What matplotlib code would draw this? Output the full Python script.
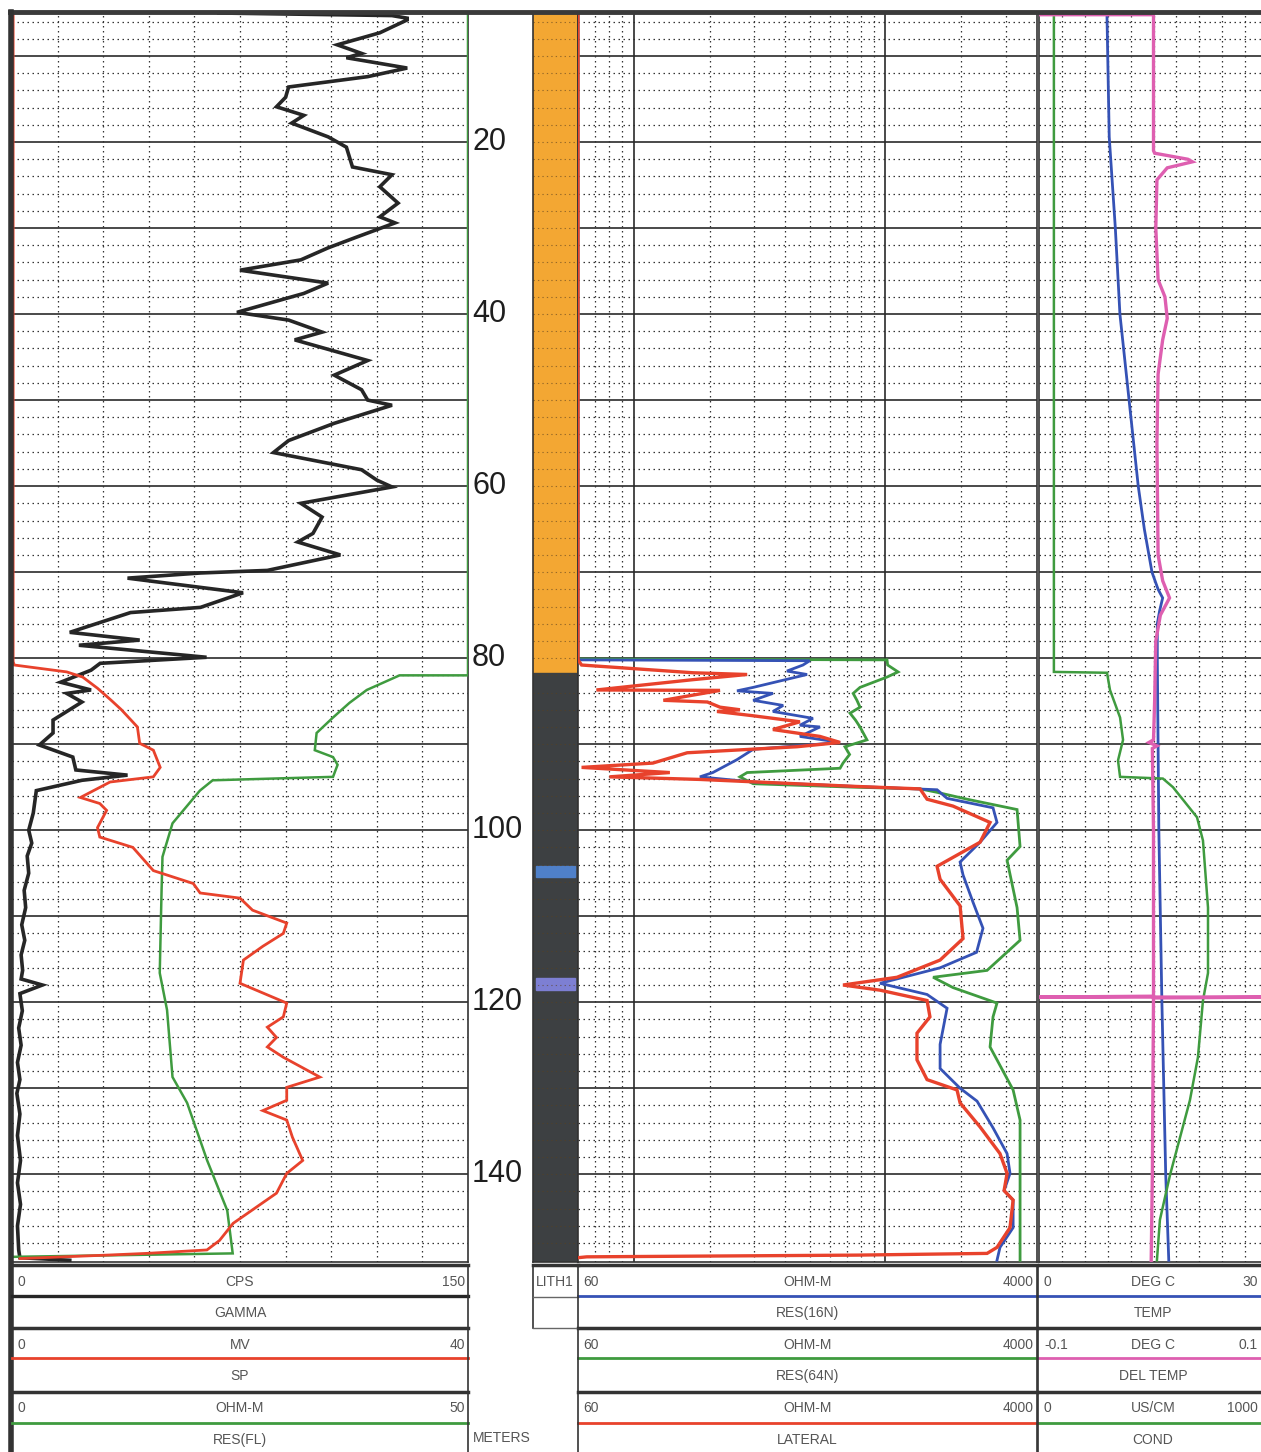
import matplotlib.pyplot as plt
import matplotlib.transforms as mtrans

depth_labels = [20, 40, 60, 80, 100, 120, 140]

gamma = [(5.0, 68), (5.3, 125), (5.6, 130), (5.8, 130), (7.3, 121), (8.7, 107), (9.7, 115),
         (10.2, 110), (11.4, 130), (12.4, 117), (13.6, 91), (14.8, 90), (15.9, 87), (16.9, 96),
         (17.8, 92), (19.4, 104), (20.6, 110), (22.9, 112), (23.8, 125), (25.2, 121), (27.1, 127),
         (28.7, 121), (29.4, 126), (31.1, 113), (32.3, 104), (33.7, 95), (34.9, 75), (36.4, 104),
         (37.6, 96), (39.8, 74), (40.7, 91), (42.1, 102), (43.0, 93), (45.4, 117), (47.1, 106),
         (48.8, 115), (50.0, 117), (50.6, 125), (52.7, 106), (54.7, 91), (56.1, 86), (58.1, 115),
         (59.3, 120), (60.1, 125), (62.0, 95), (63.6, 102), (65.5, 99), (66.5, 94), (68.0, 108),
         (69.8, 84), (70.1, 62), (70.7, 38), (72.4, 76), (74.1, 62), (74.7, 39), (77.0, 19),
         (77.9, 42), (78.5, 22), (79.9, 64), (80.6, 29), (81.4, 26), (82.8, 16), (83.7, 26),
         (84.1, 18), (85.1, 23), (87.2, 13.5), (88.7, 13.5), (90.1, 9), (91.5, 20), (93.0, 21),
         (93.6, 38), (94.2, 23), (95.4, 8), (98.0, 7), (100.0, 5.5), (101.5, 6.5), (103.0, 5),
         (105.0, 5.5), (107.0, 4), (109.0, 4.5), (111.0, 3.2), (112.8, 4.2), (114.5, 3),
         (116.3, 3.5), (117.3, 3), (118.0, 10), (119.0, 2.6), (121.0, 3.4), (123.0, 2.2),
         (125.0, 3.0), (127.0, 1.8), (129.0, 2.6), (130.6, 1.6), (133.0, 2.6), (135.5, 1.8),
         (138.4, 2.8), (141.0, 1.8), (143.5, 2.8), (146.0, 1.8), (148.8, 2.2), (149.7, 2.6),
         (150.0, 19)]

sp = [(5.0, 0.1), (80.4, 0.1), (80.8, 0.2), (81.6, 4.8), (82.2, 6.2), (83.5, 7.5), (84.9, 8.7),
      (86.0, 9.6), (88.0, 11.0), (89.9, 11.2), (90.7, 12.4), (92.7, 13.0), (93.8, 12.4),
      (94.4, 8.6), (96.2, 6.0), (96.9, 7.7), (97.7, 8.3), (99.7, 7.5), (100.8, 7.7), (102.0, 10.6),
      (104.7, 12.4), (106.2, 15.9), (107.3, 16.5), (107.9, 20.0), (109.3, 21.1), (110.8, 24.1),
      (112.0, 23.8), (113.5, 22.0), (115.1, 20.3), (117.8, 20.0), (120.1, 24.1), (121.7, 23.8),
      (122.9, 22.4), (124.1, 23.2), (125.2, 22.4), (126.4, 23.8), (128.7, 27.0), (129.9, 24.1),
      (131.4, 24.1), (132.6, 22.0), (133.7, 24.1), (135.7, 24.6), (138.4, 25.5), (139.9, 24.1),
      (142.2, 23.2), (145.7, 19.4), (147.7, 18.2), (148.8, 17.1), (149.2, 11.8), (149.4, 8.3),
      (149.8, 0.7)]

res_fl = [(5.0, 50), (82.0, 50), (82.0, 42.5), (83.7, 38.9), (85.2, 37.0), (86.9, 35.2),
          (88.7, 33.4), (90.7, 33.2), (91.5, 35.2), (92.4, 35.7), (93.8, 35.2), (94.2, 22.0),
          (95.4, 20.6), (99.2, 17.6), (103.1, 16.5), (107.0, 16.4), (116.6, 16.2), (120.9, 17.0),
          (128.7, 17.6), (131.7, 19.2), (138.4, 21.4), (144.2, 23.6), (149.2, 24.2), (149.6, 0.1)]

res16 = [(5.0, 60), (80.2, 60), (80.3, 500), (80.8, 470), (81.5, 406), (81.9, 488), (83.4, 298),
         (83.8, 257), (84.1, 357), (84.9, 298), (85.5, 392), (86.2, 357), (87.0, 515), (87.8, 457),
         (88.0, 549), (89.1, 457), (89.8, 660), (90.6, 298), (91.8, 257), (93.3, 206), (93.8, 183),
         (94.4, 298), (94.9, 744), (95.3, 1603), (96.3, 1757), (97.4, 2675), (99.1, 2774),
         (101.4, 2376), (103.7, 1979), (105.2, 2033), (108.4, 2229), (111.4, 2440), (114.2, 2300),
         (116.0, 1648), (117.8, 951), (119.1, 1463), (120.7, 1757), (124.9, 1648), (127.7, 1648),
         (130.0, 1979), (131.5, 2311), (134.6, 2675), (137.6, 3042), (139.9, 3125), (141.9, 2960),
         (143.0, 3215), (146.2, 3215), (148.5, 2851), (150.0, 2774)]

res64 = [(5.0, 60), (80.1, 60), (80.2, 1014), (80.8, 1020), (81.6, 1122), (82.2, 1014), (83.4, 792),
         (84.1, 744), (84.9, 770), (85.7, 792), (86.4, 723), (87.2, 760), (88.0, 792), (89.5, 844),
         (90.3, 690), (91.2, 720), (92.2, 678), (92.8, 660), (93.3, 282), (93.8, 264), (94.6, 298),
         (95.0, 744), (95.2, 1372), (95.6, 1603), (96.4, 2110), (97.6, 3333), (101.9, 3426),
         (103.5, 3042), (109.0, 3333), (112.8, 3426), (116.3, 2533), (117.1, 1546), (118.3, 1855),
         (120.1, 2774), (121.7, 2675), (125.2, 2603), (126.7, 2774), (130.2, 3215), (133.7, 3426),
         (150.0, 3426)]

lateral = [(5.0, 60), (80.2, 60), (80.8, 62), (81.7, 172), (81.9, 282), (82.5, 172), (83.7, 71),
           (83.75, 220), (84.9, 131), (85.1, 196), (85.7, 220), (86.0, 264), (86.2, 214),
           (86.7, 298), (87.4, 457), (88.3, 357), (89.1, 549), (89.8, 660), (90.3, 445), (91.0, 163),
           (92.2, 119), (92.7, 62), (93.3, 139), (93.8, 80), (94.1, 183), (94.9, 744), (95.2, 1372),
           (96.4, 1463), (97.2, 1855), (99.1, 2603), (101.4, 2376), (104.2, 1603), (105.7, 1648),
           (108.8, 1979), (112.6, 2033), (115.1, 1648), (117.1, 1111), (118.0, 678), (118.6, 951),
           (119.8, 1463), (121.7, 1502), (123.6, 1334), (126.7, 1334), (129.0, 1463), (130.2, 1924),
           (131.7, 1979), (134.5, 2376), (137.6, 2851), (139.9, 3042), (141.9, 2960), (143.0, 3215),
           (146.2, 3125), (148.5, 2774), (149.2, 2533), (149.4, 770), (149.6, 65), (149.7, 60)]

temp = [(5.0, 8.9), (19.4, 9.2), (30.0, 10.0), (40.0, 10.6), (50.0, 11.8), (60.0, 13.0),
        (65.0, 13.8), (70.0, 14.8), (72.0, 15.6), (73.0, 16.2), (74.5, 15.8), (76.0, 15.5),
        (80.0, 15.5), (100.0, 15.7), (120.0, 16.1), (140.0, 16.6), (150.0, 17.0)]

del_temp = [(5.2, -0.1), (5.2, 0.0), (21.0, 0.0), (21.3, 0.001), (22.0, 0.03), (22.3, 0.034),
            (23.0, 0.012), (24.4, 0.003), (30.0, 0.002), (36.0, 0.004), (38.0, 0.010),
            (40.5, 0.012), (43.0, 0.008), (47.0, 0.004), (55.0, 0.003), (68.0, 0.004),
            (71.0, 0.008), (73.0, 0.014), (75.0, 0.006), (78.0, 0.002), (85.0, 0.001),
            (89.5, 0.0), (89.8, -0.004), (90.2, 0.003), (90.5, -0.001), (100.0, 0.0),
            (119.3, 0.0), (119.4, -0.1), (119.4, 0.12), (119.5, 0.0), (140.0, -0.001),
            (150.0, -0.002)]

cond = [(5.5, 65), (81.6, 65), (81.7, 297), (83.7, 310), (86.9, 354), (89.5, 367), (91.9, 345),
        (93.8, 354), (94.0, 541), (95.0, 585), (98.5, 690), (101.2, 716), (109.0, 738),
        (116.6, 738), (119.8, 716), (126.4, 694), (131.4, 659), (140.1, 572), (145.3, 528),
        (150.0, 515)]

# lithology intervals (top, bottom, colour, width fraction)
lith = [(5.0, 81.7, "#f3a733", 1.0), (81.7, 150.2, "#3d4042", 1.0),
        (104.2, 105.4, "#4f80c9", 0.86), (117.2, 118.6, "#7d7fd3", 0.86)]

RED, BLUE, GREEN, PINK, BLACK = "#e8422c", "#3552b5", "#3f9b3f", "#de5fb0", "#262626"

W, H = 1261, 1452
DTOP, DBOT = 5.0, 150.2
YTOP, YBOT = 13, 1262
DOT = (0, (1.2, 2.8))

plt.rcParams["font.family"] = ["Liberation Sans Narrow", "Liberation Sans", "DejaVu Sans"]
fig = plt.figure(figsize=(W / 100, H / 100), dpi=100)


def box(x0, x1, y0=YTOP, y1=YBOT, **kw):
    return fig.add_axes([x0 / W, 1 - y1 / H, (x1 - x0) / W, (y1 - y0) / H], **kw)


def bare(ax):
    ax.set_xticks([])
    ax.set_yticks([])
    ax.set_xticks([], minor=True)
    ax.set_yticks([], minor=True)
    ax.set_ylim(DBOT, DTOP)
    for s in ax.spines.values():
        s.set_color("#333")
        s.set_linewidth(1.2)


def depth_grid(ax, solid=True, color="#333"):
    for d in range(6, 150, 2):
        if d % 10 == 0 and solid:
            ax.axhline(d, color="#2a2a2a", lw=1.2, zorder=1)
        else:
            ax.axhline(d, color=color, lw=0.9, ls=DOT, zorder=1)


def twin(ax, lo, hi):
    tw = ax.twiny()
    tw.set_xlim(lo, hi)
    tw.set_ylim(DBOT, DTOP)
    tw.axis("off")
    return tw


def curve(ax, data, color, lw):
    d, v = zip(*data)
    ax.plot(v, d, color=color, lw=lw, zorder=4, solid_joinstyle="miter")


# track 1: gamma / SP / RES(FL)
t1 = box(12, 468)
t1.set_xlim(0, 150)
bare(t1)
depth_grid(t1)
for v in range(15, 150, 15):
    t1.axvline(v, color="#333", lw=0.9, ls=DOT, zorder=1)
curve(twin(t1, 0, 50), res_fl, GREEN, 1.8)
curve(twin(t1, 0, 40), sp, RED, 2.0)
curve(t1, gamma, BLACK, 2.6)

# lithology column
tl = box(533, 578)
tl.set_xlim(0, 1)
bare(tl)
for top, bot, col, w in lith:
    tl.axhspan(top, bot, xmin=(1 - w) / 2 * 0.9, xmax=1 - (1 - w) / 2 * 1.1, color=col, zorder=0)
for d in range(6, 150, 2):
    tl.axhline(d, color="#5a4020", lw=0.8, ls=DOT, alpha=0.6, zorder=1)

# track 2: resistivities on log scale
t2 = box(578, 1037)
t2.set_xscale("log")
t2.set_xlim(60, 4000)
bare(t2)
depth_grid(t2)
for v in [70, 80, 90, 200, 300, 400, 500, 600, 700, 800, 900, 2000, 3000]:
    t2.axvline(v, color="#333", lw=0.9, ls=DOT, zorder=1)
for v in [100, 1000]:
    t2.axvline(v, color="#2a2a2a", lw=1.2, zorder=1)
curve(t2, res64, GREEN, 2.0)
curve(t2, res16, BLUE, 2.0)
curve(t2, lateral, RED, 2.4)

# track 3: temperature / delta temp / conductivity
t3 = box(1039, 1268)
t3.set_xlim(0, 30)
bare(t3)
depth_grid(t3)
for v in range(3, 30, 3):
    t3.axvline(v, color="#333", lw=0.9, ls=DOT, zorder=1)
curve(twin(t3, 0, 1000), cond, GREEN, 1.8)
curve(t3, temp, BLUE, 2.0)
curve(twin(t3, -0.1, 0.1), del_temp, PINK, 2.4)

# depth numbers
tr = mtrans.blended_transform_factory(t1.transAxes, t1.transData)
for d in depth_labels:
    t1.text(1.0 + 4 / 456, d, str(d), transform=tr, ha="left", va="center",
            fontsize=22, color="#1e1e1e", clip_on=False)

# overlay for borders and header boxes (pixel coords)
ov = fig.add_axes([0, 0, 1, 1], zorder=10)
ov.set_xlim(0, W)
ov.set_ylim(H, 0)
ov.axis("off")

ov.plot([10, W], [12, 12], color="#3a3a3a", lw=3.5)
ov.plot([11, 11], [12, H], color="#333", lw=4)

SCALE_Y = [1282, 1345, 1408]
COLOR_Y = [1296, 1358, 1423]
NAME_Y = [1313, 1376, 1440]
SEP_Y = [1265, 1328, 1392]
TXT = dict(fontsize=10, color="#555", va="center")


def footer(x0, x1, rows, xc=None, xr=None):
    xc = (x0 + x1) / 2 if xc is None else xc
    xr = x1 - 3 if xr is None else xr
    for i, (lo, unit, hi, name, col) in enumerate(rows):
        ov.plot([x0, x1], [SEP_Y[i], SEP_Y[i]], color="#333", lw=2.5)
        ov.text(x0 + 5, SCALE_Y[i], lo, ha="left", **TXT)
        ov.text(xc, SCALE_Y[i], unit, ha="center", **TXT)
        ov.text(xr, SCALE_Y[i], hi, ha="right", **TXT)
        ov.plot([x0, x1], [COLOR_Y[i], COLOR_Y[i]], color=col, lw=2.4 if col == BLACK else 2.0)
        ov.text(xc, NAME_Y[i], name, ha="center", **TXT)
    ov.plot([x1, x1], [SEP_Y[0], H], color="#333", lw=1.2)


footer(12, 468, [("0", "CPS", "150", "GAMMA", BLACK),
                 ("0", "MV", "40", "SP", RED),
                 ("0", "OHM-M", "50", "RES(FL)", GREEN)])
footer(578, 1037, [("60", "OHM-M", "4000", "RES(16N)", BLUE),
                   ("60", "OHM-M", "4000", "RES(64N)", GREEN),
                   ("60", "OHM-M", "4000", "LATERAL", RED)])
footer(1039, 1268, [("0", "DEG C", "30", "TEMP", BLUE),
                    ("-0.1", "DEG C", "0.1", "DEL TEMP", PINK),
                    ("0", "US/CM", "1000", "COND", GREEN)], xc=1153, xr=1258)

# lithology key box and depth unit
ov.plot([533, 578], [1265, 1265], color="#333", lw=2.5)
ov.plot([533, 533], [1265, 1328], color="#333", lw=1.2)
ov.plot([533, 578], [1297, 1297], color="#666", lw=1.0)
ov.plot([533, 578], [1328, 1328], color="#666", lw=1.0)
ov.plot([578, 578], [1265, H], color="#333", lw=1.2)
ov.plot([1038, 1038], [1265, H], color="#333", lw=1.2)
ov.text(555, SCALE_Y[0], "LITH1", ha="center", **TXT)
ov.text(473, 1438, "METERS", ha="left", **TXT)

fig.savefig("out.png", dpi=100)
